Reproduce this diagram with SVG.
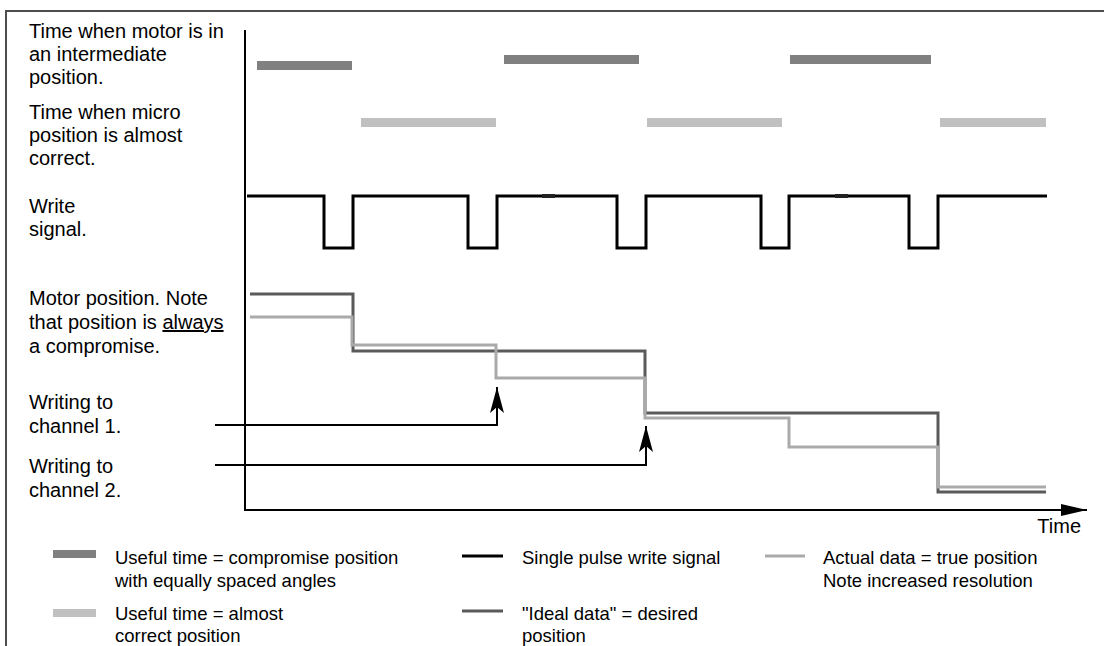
<svg xmlns="http://www.w3.org/2000/svg" width="1104" height="646" viewBox="0 0 1104 646">
<style>
text{font-family:"Liberation Sans",Arial,sans-serif;font-size:20px;fill:#000}
.lg{font-size:18.5px}
.bd{fill:#808080}
.bl{fill:#c0c0c0}
.sig{fill:none;stroke:#000;stroke-width:3}
.ideal{fill:none;stroke:#5a5a5a;stroke-width:3}
.act{fill:none;stroke:#aaaaaa;stroke-width:3}
.ax{fill:none;stroke:#000;stroke-width:2}
.ln{fill:none;stroke:#000;stroke-width:2}
</style>
<defs>
<marker id="ah" viewBox="0 0 26 14" refX="26" refY="7" markerWidth="26" markerHeight="14" markerUnits="userSpaceOnUse" orient="auto">
<path d="M0,0 L26,7 L0,14 L6,7 Z" fill="#000"/>
</marker>
<marker id="ta" viewBox="0 0 26 12" refX="26" refY="6" markerWidth="26" markerHeight="12" markerUnits="userSpaceOnUse" orient="auto">
<path d="M0,0 L26,6 L0,12 Z" fill="#000"/>
</marker>
</defs>
<rect width="1104" height="646" fill="#fff"/>
<path d="M6,646 V11 H1104" fill="none" stroke="#4d4d4d" stroke-width="2"/>

<g id="labels">
<text x="29" y="38">Time when motor is in</text>
<text x="29" y="61">an intermediate</text>
<text x="29" y="84">position.</text>
<text x="29" y="119">Time when micro</text>
<text x="29" y="142">position is almost</text>
<text x="29" y="165">correct.</text>
<text x="29" y="213">Write</text>
<text x="29" y="236">signal.</text>
<text x="29" y="305">Motor position. Note</text>
<text x="29" y="329">that position is <tspan text-decoration="underline">always</tspan></text>
<text x="29" y="353">a compromise.</text>
<text x="29" y="409">Writing to</text>
<text x="29" y="433">channel 1.</text>
<text x="29" y="473">Writing to</text>
<text x="29" y="497">channel 2.</text>
</g>

<g id="axes">
<path class="ax" d="M245,30 V511"/>
<path class="ax" d="M244,510 H1087" marker-end="url(#ta)"/>
<text x="1081" y="533" text-anchor="end">Time</text>
</g>

<g id="intermediate-bars">
<rect class="bd" x="257" y="61" width="95" height="9"/>
<rect class="bd" x="504" y="55" width="135" height="9"/>
<rect class="bd" x="790" y="55" width="141" height="9"/>
</g>
<g id="correct-bars">
<rect class="bl" x="361" y="118" width="135" height="9"/>
<rect class="bl" x="647" y="118" width="135" height="9"/>
<rect class="bl" x="940" y="118" width="106" height="9"/>
</g>

<g id="write-signal">
<path class="sig" d="M247,196 H324 V248 H353 V196 H468 V248 H497 V196 H617 V248 H646 V196 H761 V248 H789 V196 H909 V248 H938 V196 H1047"/>
<rect x="542" y="194" width="13" height="4" fill="#222"/>
<rect x="835" y="194" width="13" height="4" fill="#222"/>
</g>

<g id="ideal-data">
<path class="ideal" d="M250,294 H353 V351 H645 V413 H938 V492 H1046"/>
</g>
<g id="actual-data">
<path class="act" d="M250,317 H352 V345 H496 V378 H645 V418 H789 V447 H938 V487 H1046"/>
</g>

<g id="connectors">
<path class="ln" d="M215,425 H497 V387" marker-end="url(#ah)"/>
<path class="ln" d="M215,465 H646 V426" marker-end="url(#ah)"/>
</g>

<g id="legend">
<rect class="bd" x="53" y="550" width="43" height="8"/>
<text class="lg" x="115" y="564">Useful time = compromise position</text>
<text class="lg" x="115" y="587">with equally spaced angles</text>
<rect class="bl" x="53" y="609" width="43" height="8"/>
<text class="lg" x="115" y="620">Useful time = almost</text>
<text class="lg" x="115" y="642">correct position</text>
<path d="M462,556 H503" stroke="#000" stroke-width="3"/>
<text class="lg" x="522" y="564">Single pulse write signal</text>
<path d="M462,611 H503" stroke="#5a5a5a" stroke-width="3"/>
<text class="lg" x="522" y="620">"Ideal data" = desired</text>
<text class="lg" x="522" y="642">position</text>
<path d="M765,556 H805" stroke="#aaaaaa" stroke-width="3"/>
<text class="lg" x="823" y="564">Actual data = true position</text>
<text class="lg" x="823" y="587">Note increased resolution</text>
</g>
</svg>
